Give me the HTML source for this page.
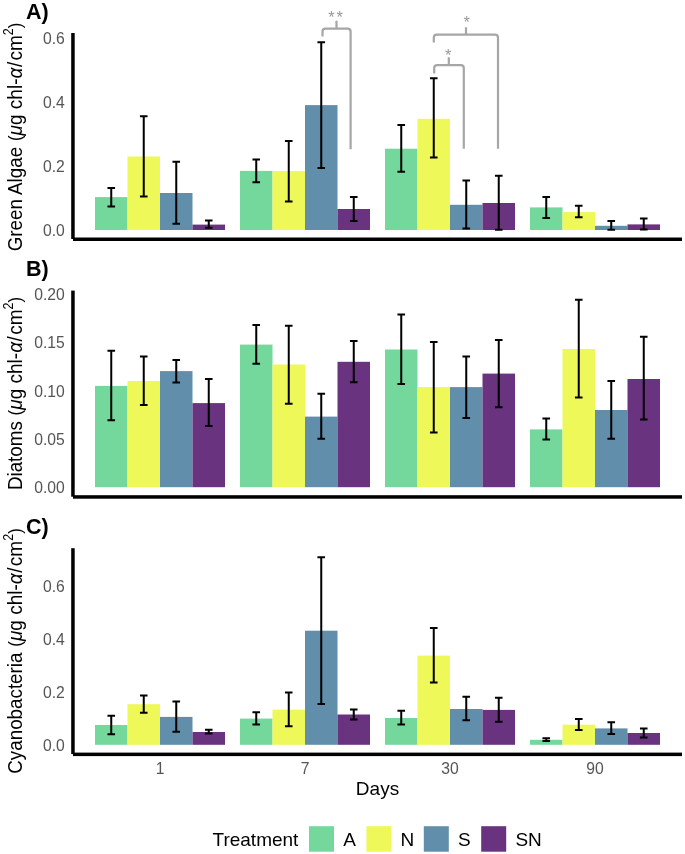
<!DOCTYPE html>
<html><head><meta charset="utf-8"><style>
html,body{margin:0;padding:0;background:#fff;}
svg{display:block;will-change:transform;}
text{font-family:"Liberation Sans",sans-serif;}
</style></head><body>
<svg width="685" height="854" viewBox="0 0 685 854">
<rect x="0" y="0" width="685" height="854" fill="#ffffff"/>

<rect x="95" y="197.1" width="32.5" height="32.9" fill="#74D89C"/>
<rect x="127.5" y="156.5" width="32.5" height="73.5" fill="#EEF858"/>
<rect x="160" y="193" width="32.5" height="37" fill="#618EAA"/>
<rect x="192.5" y="224.6" width="32.5" height="5.4" fill="#69337F"/>
<rect x="240" y="170.9" width="32.5" height="59.1" fill="#74D89C"/>
<rect x="272.5" y="171.1" width="32.5" height="58.9" fill="#EEF858"/>
<rect x="305" y="105.1" width="32.5" height="124.9" fill="#618EAA"/>
<rect x="337.5" y="209" width="32.5" height="21" fill="#69337F"/>
<rect x="385" y="148.7" width="32.5" height="81.3" fill="#74D89C"/>
<rect x="417.5" y="118.8" width="32.5" height="111.2" fill="#EEF858"/>
<rect x="450" y="204.8" width="32.5" height="25.2" fill="#618EAA"/>
<rect x="482.5" y="203" width="32.5" height="27" fill="#69337F"/>
<rect x="530" y="207.4" width="32.5" height="22.6" fill="#74D89C"/>
<rect x="562.5" y="212.1" width="32.5" height="17.9" fill="#EEF858"/>
<rect x="595" y="225.8" width="32.5" height="4.2" fill="#618EAA"/>
<rect x="627.5" y="224.4" width="32.5" height="5.6" fill="#69337F"/>
<path d="M111.25 187.9V206.6M107.45 187.9H115.05M107.45 206.6H115.05" stroke="#000" stroke-width="2" fill="none"/>
<path d="M143.75 116.3V196.4M139.95 116.3H147.55M139.95 196.4H147.55" stroke="#000" stroke-width="2" fill="none"/>
<path d="M176.25 161.75V223.8M172.45 161.75H180.05M172.45 223.8H180.05" stroke="#000" stroke-width="2" fill="none"/>
<path d="M208.75 220.6V227.8M204.95 220.6H212.55M204.95 227.8H212.55" stroke="#000" stroke-width="2" fill="none"/>
<path d="M256.25 159.4V182.2M252.45 159.4H260.05M252.45 182.2H260.05" stroke="#000" stroke-width="2" fill="none"/>
<path d="M288.75 141.1V201.6M284.95 141.1H292.55M284.95 201.6H292.55" stroke="#000" stroke-width="2" fill="none"/>
<path d="M321.25 42.3V168M317.45 42.3H325.05M317.45 168H325.05" stroke="#000" stroke-width="2" fill="none"/>
<path d="M353.75 196.9V220.9M349.95 196.9H357.55M349.95 220.9H357.55" stroke="#000" stroke-width="2" fill="none"/>
<path d="M401.25 124.9V171.8M397.45 124.9H405.05M397.45 171.8H405.05" stroke="#000" stroke-width="2" fill="none"/>
<path d="M433.75 78.3V157.5M429.95 78.3H437.55M429.95 157.5H437.55" stroke="#000" stroke-width="2" fill="none"/>
<path d="M466.25 180.4V228.4M462.45 180.4H470.05M462.45 228.4H470.05" stroke="#000" stroke-width="2" fill="none"/>
<path d="M498.75 175.7V229.8M494.95 175.7H502.55M494.95 229.8H502.55" stroke="#000" stroke-width="2" fill="none"/>
<path d="M546.25 196.9V217.9M542.45 196.9H550.05M542.45 217.9H550.05" stroke="#000" stroke-width="2" fill="none"/>
<path d="M578.75 205.8V217.2M574.95 205.8H582.55M574.95 217.2H582.55" stroke="#000" stroke-width="2" fill="none"/>
<path d="M611.25 220.9V229.7M607.45 220.9H615.05M607.45 229.7H615.05" stroke="#000" stroke-width="2" fill="none"/>
<path d="M643.75 218.5V229.6M639.95 218.5H647.55M639.95 229.6H647.55" stroke="#000" stroke-width="2" fill="none"/>
<rect x="71.2" y="33.0" width="3.5" height="206" fill="#000"/>
<rect x="73" y="237.5" width="609" height="3.5" fill="#000"/>
<text x="64.8" y="235.82" font-size="15.7" fill="#555555" text-anchor="end">0.0</text>
<text x="64.8" y="171.82" font-size="15.7" fill="#555555" text-anchor="end">0.2</text>
<text x="64.8" y="107.82" font-size="15.7" fill="#555555" text-anchor="end">0.4</text>
<text x="64.8" y="43.82" font-size="15.7" fill="#555555" text-anchor="end">0.6</text>
<text transform="translate(22.2 251.35) rotate(-90) scale(1 1.1)" font-size="19" fill="#000"><tspan font-size="18.8">Green Algae </tspan><tspan font-size="17" dx="0.6" dy="-1.0">(</tspan><tspan font-style="italic" dy="1.0">μ</tspan>g chl-<tspan font-style="italic">α</tspan><tspan dx="0.6">/</tspan><tspan dx="1.3">cm</tspan><tspan font-size="12.5" dy="-8.3">2</tspan><tspan font-size="17" dy="7.300000000000001">)</tspan></text>
<text x="26" y="19.2" font-size="21.5" font-weight="bold" fill="#000">A)</text>
<rect x="95" y="385.9" width="32.5" height="101.3" fill="#74D89C"/>
<rect x="127.5" y="381" width="32.5" height="106.2" fill="#EEF858"/>
<rect x="160" y="371.1" width="32.5" height="116.1" fill="#618EAA"/>
<rect x="192.5" y="403.1" width="32.5" height="84.1" fill="#69337F"/>
<rect x="240" y="344.6" width="32.5" height="142.6" fill="#74D89C"/>
<rect x="272.5" y="364.5" width="32.5" height="122.7" fill="#EEF858"/>
<rect x="305" y="416.6" width="32.5" height="70.6" fill="#618EAA"/>
<rect x="337.5" y="361.8" width="32.5" height="125.4" fill="#69337F"/>
<rect x="385" y="349.5" width="32.5" height="137.7" fill="#74D89C"/>
<rect x="417.5" y="387.1" width="32.5" height="100.1" fill="#EEF858"/>
<rect x="450" y="387.1" width="32.5" height="100.1" fill="#618EAA"/>
<rect x="482.5" y="373.6" width="32.5" height="113.6" fill="#69337F"/>
<rect x="530" y="429.4" width="32.5" height="57.8" fill="#74D89C"/>
<rect x="562.5" y="349" width="32.5" height="138.2" fill="#EEF858"/>
<rect x="595" y="410" width="32.5" height="77.2" fill="#618EAA"/>
<rect x="627.5" y="379" width="32.5" height="108.2" fill="#69337F"/>
<path d="M111.25 350.7V420.3M107.45 350.7H115.05M107.45 420.3H115.05" stroke="#000" stroke-width="2" fill="none"/>
<path d="M143.75 356.4V405.1M139.95 356.4H147.55M139.95 405.1H147.55" stroke="#000" stroke-width="2" fill="none"/>
<path d="M176.25 360.1V382.5M172.45 360.1H180.05M172.45 382.5H180.05" stroke="#000" stroke-width="2" fill="none"/>
<path d="M208.75 379V426M204.95 379H212.55M204.95 426H212.55" stroke="#000" stroke-width="2" fill="none"/>
<path d="M256.25 324.9V363.8M252.45 324.9H260.05M252.45 363.8H260.05" stroke="#000" stroke-width="2" fill="none"/>
<path d="M288.75 325.7V403.8M284.95 325.7H292.55M284.95 403.8H292.55" stroke="#000" stroke-width="2" fill="none"/>
<path d="M321.25 393.8V438.8M317.45 393.8H325.05M317.45 438.8H325.05" stroke="#000" stroke-width="2" fill="none"/>
<path d="M353.75 340.9V382.2M349.95 340.9H357.55M349.95 382.2H357.55" stroke="#000" stroke-width="2" fill="none"/>
<path d="M401.25 314.6V383.9M397.45 314.6H405.05M397.45 383.9H405.05" stroke="#000" stroke-width="2" fill="none"/>
<path d="M433.75 341.9V432.6M429.95 341.9H437.55M429.95 432.6H437.55" stroke="#000" stroke-width="2" fill="none"/>
<path d="M466.25 356.4V417.9M462.45 356.4H470.05M462.45 417.9H470.05" stroke="#000" stroke-width="2" fill="none"/>
<path d="M498.75 339.9V407.3M494.95 339.9H502.55M494.95 407.3H502.55" stroke="#000" stroke-width="2" fill="none"/>
<path d="M546.25 418.6V439.5M542.45 418.6H550.05M542.45 439.5H550.05" stroke="#000" stroke-width="2" fill="none"/>
<path d="M578.75 299.8V397.5M574.95 299.8H582.55M574.95 397.5H582.55" stroke="#000" stroke-width="2" fill="none"/>
<path d="M611.25 381V438.8M607.45 381H615.05M607.45 438.8H615.05" stroke="#000" stroke-width="2" fill="none"/>
<path d="M643.75 336.7V419.6M639.95 336.7H647.55M639.95 419.6H647.55" stroke="#000" stroke-width="2" fill="none"/>
<rect x="71.2" y="290.6" width="3.5" height="206.1" fill="#000"/>
<rect x="73" y="495.2" width="609" height="3.5" fill="#000"/>
<text x="64.8" y="493.12" font-size="15.7" fill="#555555" text-anchor="end">0.00</text>
<text x="64.8" y="444.82" font-size="15.7" fill="#555555" text-anchor="end">0.05</text>
<text x="64.8" y="396.52" font-size="15.7" fill="#555555" text-anchor="end">0.10</text>
<text x="64.8" y="348.22" font-size="15.7" fill="#555555" text-anchor="end">0.15</text>
<text x="64.8" y="299.92" font-size="15.7" fill="#555555" text-anchor="end">0.20</text>
<text transform="translate(22.2 490.1) rotate(-90) scale(1 1.1)" font-size="19" fill="#000"><tspan font-size="18.8">Diatoms </tspan><tspan font-size="17" dx="0.6" dy="-1.0">(</tspan><tspan font-style="italic" dy="1.0">μ</tspan>g chl-<tspan font-style="italic">α</tspan><tspan dx="0.6">/</tspan><tspan dx="1.3">cm</tspan><tspan font-size="12.5" dy="-8.3">2</tspan><tspan font-size="17" dy="7.300000000000001">)</tspan></text>
<text x="26" y="276.4" font-size="21.5" font-weight="bold" fill="#000">B)</text>
<rect x="95" y="725" width="32.5" height="19.8" fill="#74D89C"/>
<rect x="127.5" y="704.2" width="32.5" height="40.6" fill="#EEF858"/>
<rect x="160" y="716.9" width="32.5" height="27.9" fill="#618EAA"/>
<rect x="192.5" y="732" width="32.5" height="12.8" fill="#69337F"/>
<rect x="240" y="718.6" width="32.5" height="26.2" fill="#74D89C"/>
<rect x="272.5" y="709.6" width="32.5" height="35.2" fill="#EEF858"/>
<rect x="305" y="630.7" width="32.5" height="114.1" fill="#618EAA"/>
<rect x="337.5" y="714.5" width="32.5" height="30.3" fill="#69337F"/>
<rect x="385" y="718" width="32.5" height="26.8" fill="#74D89C"/>
<rect x="417.5" y="655.6" width="32.5" height="89.2" fill="#EEF858"/>
<rect x="450" y="709" width="32.5" height="35.8" fill="#618EAA"/>
<rect x="482.5" y="709.9" width="32.5" height="34.9" fill="#69337F"/>
<rect x="530" y="739.8" width="32.5" height="5" fill="#74D89C"/>
<rect x="562.5" y="724.7" width="32.5" height="20.1" fill="#EEF858"/>
<rect x="595" y="728.4" width="32.5" height="16.4" fill="#618EAA"/>
<rect x="627.5" y="733" width="32.5" height="11.8" fill="#69337F"/>
<path d="M111.25 715.8V734.2M107.45 715.8H115.05M107.45 734.2H115.05" stroke="#000" stroke-width="2" fill="none"/>
<path d="M143.75 695.6V712.7M139.95 695.6H147.55M139.95 712.7H147.55" stroke="#000" stroke-width="2" fill="none"/>
<path d="M176.25 701.5V731.7M172.45 701.5H180.05M172.45 731.7H180.05" stroke="#000" stroke-width="2" fill="none"/>
<path d="M208.75 729.8V733.5M204.95 729.8H212.55M204.95 733.5H212.55" stroke="#000" stroke-width="2" fill="none"/>
<path d="M256.25 712.2V724.5M252.45 712.2H260.05M252.45 724.5H260.05" stroke="#000" stroke-width="2" fill="none"/>
<path d="M288.75 692.6V726.3M284.95 692.6H292.55M284.95 726.3H292.55" stroke="#000" stroke-width="2" fill="none"/>
<path d="M321.25 557.3V703.9M317.45 557.3H325.05M317.45 703.9H325.05" stroke="#000" stroke-width="2" fill="none"/>
<path d="M353.75 709.6V719.4M349.95 709.6H357.55M349.95 719.4H357.55" stroke="#000" stroke-width="2" fill="none"/>
<path d="M401.25 710.8V724.6M397.45 710.8H405.05M397.45 724.6H405.05" stroke="#000" stroke-width="2" fill="none"/>
<path d="M433.75 628V682.5M429.95 628H437.55M429.95 682.5H437.55" stroke="#000" stroke-width="2" fill="none"/>
<path d="M466.25 696.8V720.2M462.45 696.8H470.05M462.45 720.2H470.05" stroke="#000" stroke-width="2" fill="none"/>
<path d="M498.75 697.7V721.7M494.95 697.7H502.55M494.95 721.7H502.55" stroke="#000" stroke-width="2" fill="none"/>
<path d="M546.25 738.2V741.1M542.45 738.2H550.05M542.45 741.1H550.05" stroke="#000" stroke-width="2" fill="none"/>
<path d="M578.75 719V730.1M574.95 719H582.55M574.95 730.1H582.55" stroke="#000" stroke-width="2" fill="none"/>
<path d="M611.25 722.3V734.1M607.45 722.3H615.05M607.45 734.1H615.05" stroke="#000" stroke-width="2" fill="none"/>
<path d="M643.75 728.6V737.4M639.95 728.6H647.55M639.95 737.4H647.55" stroke="#000" stroke-width="2" fill="none"/>
<rect x="71.2" y="548.2" width="3.5" height="205.9" fill="#000"/>
<rect x="73" y="752.6" width="609" height="3.5" fill="#000"/>
<text x="64.8" y="751.22" font-size="15.7" fill="#555555" text-anchor="end">0.0</text>
<text x="64.8" y="698.02" font-size="15.7" fill="#555555" text-anchor="end">0.2</text>
<text x="64.8" y="644.82" font-size="15.7" fill="#555555" text-anchor="end">0.4</text>
<text x="64.8" y="591.62" font-size="15.7" fill="#555555" text-anchor="end">0.6</text>
<text transform="translate(22.2 773.7) rotate(-90) scale(1 1.1)" font-size="19" fill="#000"><tspan font-size="18.8">Cyanobacteria </tspan><tspan font-size="17" dx="0.6" dy="-1.0">(</tspan><tspan font-style="italic" dy="1.0">μ</tspan>g chl-<tspan font-style="italic">α</tspan><tspan dx="0.6">/</tspan><tspan dx="1.3">cm</tspan><tspan font-size="12.5" dy="-8.3">2</tspan><tspan font-size="17" dy="7.300000000000001">)</tspan></text>
<text x="26" y="533.8" font-size="21.5" font-weight="bold" fill="#000">C)</text>
<path d="M322.5 36.5V31.7Q322.5 28.7 325.5 28.7H347.6Q350.6 28.7 350.6 31.7V149.2M336.5 28.7V20.8" stroke="#A6A6A6" stroke-width="2.2" fill="none"/>
<path d="M433.8 42.5V37.7Q433.8 34.7 436.8 34.7H495Q498 34.7 498 37.7V148.7M466 34.7V27.3" stroke="#A6A6A6" stroke-width="2.2" fill="none"/>
<path d="M434.2 73.6V68.1Q434.2 65.1 437.2 65.1H460.8Q463.8 65.1 463.8 68.1V148.7M448.8 65.1V57.3" stroke="#A6A6A6" stroke-width="2.2" fill="none"/>
<text x="331.4" y="22.8" font-size="16.5" fill="#999999" text-anchor="middle">*</text>
<text x="339.6" y="22.8" font-size="16.5" fill="#999999" text-anchor="middle">*</text>
<text x="466.75" y="28.1" font-size="16.5" fill="#999999" text-anchor="middle">*</text>
<text x="448.1" y="60.9" font-size="16.5" fill="#999999" text-anchor="middle">*</text>
<text x="160" y="774" font-size="15.7" fill="#555555" text-anchor="middle">1</text>
<text x="305" y="774" font-size="15.7" fill="#555555" text-anchor="middle">7</text>
<text x="450" y="774" font-size="15.7" fill="#555555" text-anchor="middle">30</text>
<text x="595" y="774" font-size="15.7" fill="#555555" text-anchor="middle">90</text>
<text x="377.5" y="795.1" font-size="19" fill="#000" text-anchor="middle">Days</text>
<text x="212.5" y="846.2" font-size="19" fill="#000">Treatment</text>
<rect x="309" y="826.2" width="25" height="25.5" fill="#74D89C"/>
<text x="343.2" y="846.2" font-size="19" fill="#000">A</text>
<rect x="366.4" y="826.2" width="25" height="25.5" fill="#EEF858"/>
<text x="400.6" y="846.2" font-size="19" fill="#000">N</text>
<rect x="423.8" y="826.2" width="25" height="25.5" fill="#618EAA"/>
<text x="458" y="846.2" font-size="19" fill="#000">S</text>
<rect x="481.2" y="826.2" width="25" height="25.5" fill="#69337F"/>
<text x="515.4" y="846.2" font-size="19" fill="#000">SN</text>
</svg>
</body></html>
